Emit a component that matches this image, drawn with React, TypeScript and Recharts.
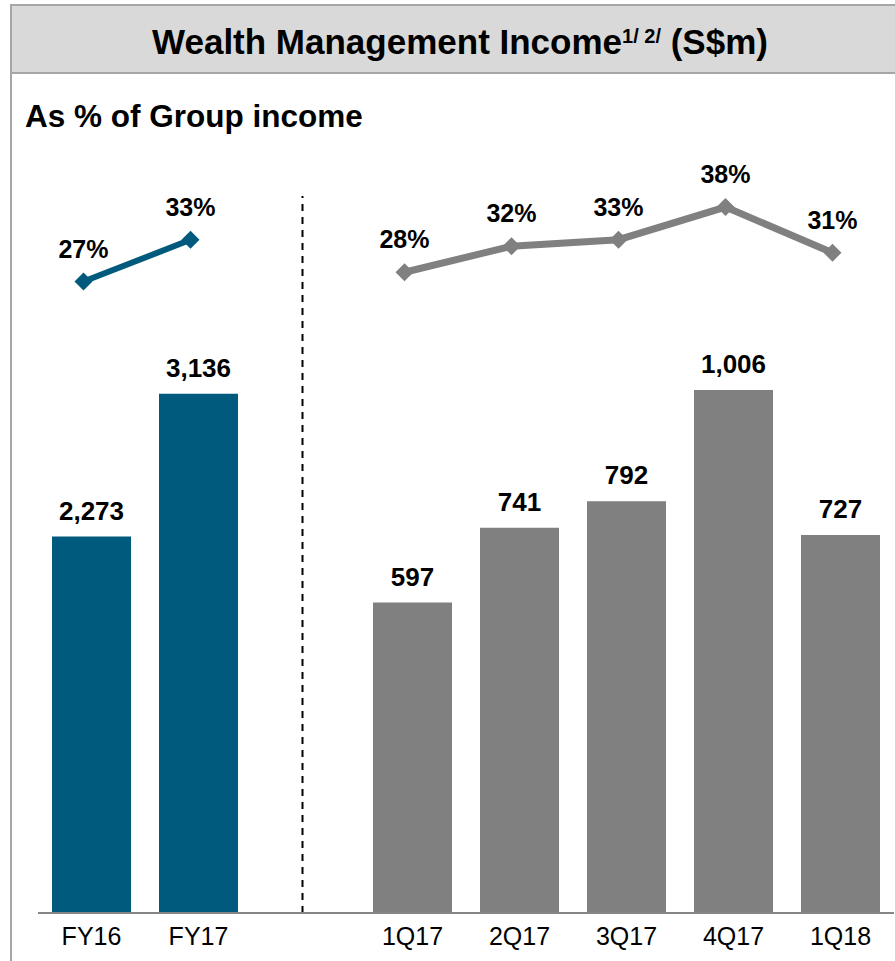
import { Bar, ComposedChart, LabelList, Line, ReferenceLine, XAxis, YAxis } from "recharts";

// full-year figures (left block)
const fyPeriods = ["FY16", "FY17"];
const fyIncome = [2273, 3136];
const fyShare = [27, 33];

// quarterly figures (right block)
const qPeriods = ["1Q17", "2Q17", "3Q17", "4Q17", "1Q18"];
const qIncome = [597, 741, 792, 1006, 727];
const qShare = [28, 32, 33, 38, 31];

// empty slot between the two blocks, holds the dashed divider
const GAP = " ";

const data = [
  ...fyPeriods.map((period, i) => ({ period, fyIncome: fyIncome[i], fyShare: fyShare[i] })),
  { period: GAP },
  ...qPeriods.map((period, i) => ({ period, qIncome: qIncome[i], qShare: qShare[i] })),
];

const TEAL = "#005a7d";
const GREY = "#808080";
const FONT = '"Liberation Sans", Arial, Helvetica, sans-serif';

function fmtIncome(v: unknown) {
  return typeof v === "number" ? v.toLocaleString("en-US") : "";
}

function fmtShare(v: unknown) {
  return typeof v === "number" ? `${v}%` : "";
}

function diamond(color: string) {
  return (props: any) => {
    const { cx, cy, index } = props;
    if (!Number.isFinite(cx) || !Number.isFinite(cy)) return <g key={index} />;
    const r = 9;
    return (
      <path
        key={index}
        d={`M${cx},${cy - r}L${cx + r},${cy}L${cx},${cy + r}L${cx - r},${cy}Z`}
        fill={color}
      />
    );
  };
}

const W = 895;
const H = 961;

export default function App() {
  return (
    <div
      style={{
        position: "absolute",
        left: 0,
        top: 0,
        width: W,
        height: H,
        overflow: "hidden",
        background: "#fff",
        fontFamily: FONT,
      }}
    >
      {/* outer frame */}
      <div
        style={{
          position: "absolute",
          left: 10,
          top: 4,
          width: W,
          height: H,
          borderLeft: "2px solid #a6a6a6",
          borderTop: "2px solid #a6a6a6",
        }}
      />
      {/* title bar */}
      <div
        style={{
          position: "absolute",
          left: 10,
          top: 4,
          width: 892,
          height: 70,
          boxSizing: "border-box",
          background: "#d9d9d9",
          border: "2px solid #a6a6a6",
        }}
      />
      <div
        style={{
          position: "absolute",
          left: 10,
          top: 24,
          width: 900,
          textAlign: "center",
          fontSize: 35,
          lineHeight: "35px",
          fontWeight: "bold",
          color: "#000",
          whiteSpace: "nowrap",
        }}
      >
        Wealth Management Income
        <span style={{ position: "relative", top: -11, fontSize: 20 }}>1/ 2/</span> (S$m)
      </div>
      <div
        style={{
          position: "absolute",
          left: 25,
          top: 101,
          fontSize: 31.5,
          lineHeight: "31px",
          fontWeight: "bold",
          color: "#000",
          whiteSpace: "nowrap",
        }}
      >
        As % of Group income
      </div>

      {/* bars */}
      <div style={{ position: "absolute", left: 0, top: 0 }}>
        <ComposedChart
          width={W}
          height={H}
          data={data}
          margin={{ top: 196, right: 1, bottom: 8, left: 38 }}
        >
          <XAxis
            xAxisId="fy"
            dataKey="period"
            height={40}
            interval={0}
            tickLine={false}
            tickMargin={8}
            axisLine={{ stroke: "#868686", strokeWidth: 2 }}
            tick={{ fontSize: 25, fill: "#000" }}
          />
          <XAxis xAxisId="q" dataKey="period" hide />
          <YAxis yAxisId="fy" hide domain={[0, 4330]} />
          <YAxis yAxisId="q" hide domain={[0, 1379]} />
          <ReferenceLine
            xAxisId="fy"
            yAxisId="fy"
            x={GAP}
            stroke="#000"
            strokeWidth={2}
            strokeDasharray="7 6"
            transform="translate(-3,0)"
          />
          <Bar
            xAxisId="fy"
            yAxisId="fy"
            dataKey="fyIncome"
            fill={TEAL}
            barSize={79}
            isAnimationActive={false}
          >
            <LabelList
              dataKey="fyIncome"
              position="top"
              offset={17}
              formatter={fmtIncome}
              fill="#000"
              fontSize={26}
              fontWeight="bold"
            />
          </Bar>
          <Bar
            xAxisId="q"
            yAxisId="q"
            dataKey="qIncome"
            fill={GREY}
            barSize={79}
            isAnimationActive={false}
          >
            <LabelList
              dataKey="qIncome"
              position="top"
              offset={17}
              formatter={fmtIncome}
              fill="#000"
              fontSize={26}
              fontWeight="bold"
            />
          </Bar>
        </ComposedChart>
      </div>

      {/* share-of-group-income lines, sit slightly left of the bar centres */}
      <div style={{ position: "absolute", left: 0, top: 0 }}>
        <ComposedChart
          width={W}
          height={H}
          data={data}
          margin={{ top: 196, right: 9, bottom: 48, left: 30 }}
        >
          <XAxis dataKey="period" hide padding={{ left: 53.5, right: 53.5 }} />
          <YAxis yAxisId="fyPct" hide domain={[-63.8, 39.3]} />
          <YAxis yAxisId="qPct" hide domain={[-70.3, 39.7]} />
          <Line
            yAxisId="fyPct"
            dataKey="fyShare"
            stroke={TEAL}
            strokeWidth={6}
            dot={diamond(TEAL)}
            activeDot={false}
            isAnimationActive={false}
          >
            <LabelList
              dataKey="fyShare"
              position="top"
              offset={24}
              formatter={fmtShare}
              fill="#000"
              fontSize={25}
              fontWeight="bold"
            />
          </Line>
          <Line
            yAxisId="qPct"
            dataKey="qShare"
            stroke={GREY}
            strokeWidth={7}
            dot={diamond(GREY)}
            activeDot={false}
            isAnimationActive={false}
          >
            <LabelList
              dataKey="qShare"
              position="top"
              offset={24}
              formatter={fmtShare}
              fill="#000"
              fontSize={25}
              fontWeight="bold"
            />
          </Line>
        </ComposedChart>
      </div>
    </div>
  );
}
